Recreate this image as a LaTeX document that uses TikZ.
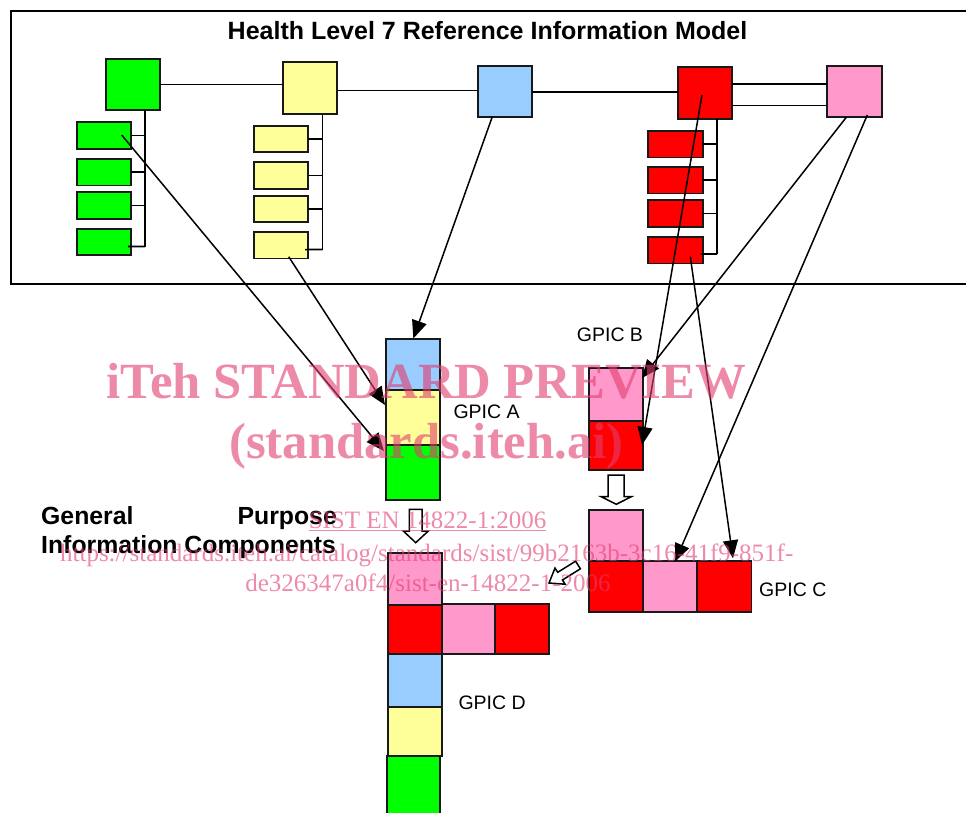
\documentclass[tikz,border=0pt]{standalone}
\usepackage{fontspec}
\setmainfont{Liberation Sans}
\newfontfamily\wmfont{Liberation Serif}
\usetikzlibrary{arrows.meta,calc}
\definecolor{cg}{RGB}{0,255,0}
\definecolor{cy}{RGB}{255,255,153}
\definecolor{cb}{RGB}{153,204,255}
\definecolor{cr}{RGB}{255,0,0}
\definecolor{cp}{RGB}{255,153,204}
\definecolor{wm}{RGB}{225,60,110}
\newcommand\mkbox[6]{\node[box,fill=#2,minimum width={#5-#3},minimum height={#6-#4}] (#1) at (#3,#4) {};}
\begin{document}
\begin{tikzpicture}[x=1pt,y=-1pt,
  box/.style={draw=black!90, line width=1.9pt, inner sep=0pt, outer sep=0pt, anchor=north west},
  link/.style={line width=1.6pt, draw=black},
  ptr/.style={line width=1.5pt, draw=black, -{Triangle[length=18pt,width=15pt]}},
  blk/.style={draw=black, line width=1.5pt, fill=white, line join=miter},
  lbl/.style={inner sep=0pt, font=\fontsize{19.5}{23}\selectfont, anchor=base west},
  gp/.style={inner sep=0pt, font=\bfseries\fontsize{24.8}{29}\selectfont},
  wmtext/.style={inner sep=0pt, text=wm, text opacity=0.6, anchor=base},
]
\useasboundingbox (0,0) rectangle (966,812);
\clip (0,0) rectangle (966,812);
\fill[white] (0,0) rectangle (966,812);

% frame
\draw[line width=1.7pt] (11,11) rectangle (990,284);
\node[inner sep=0pt, anchor=base, font=\bfseries\fontsize{25}{30}\selectfont] (title) at (487.5,39.3) {Health Level 7 Reference Information Model};

% top row classes
\mkbox{G}{cg}{106}{59}{160}{110}
\mkbox{Y}{cy}{283}{62}{337}{114}
\mkbox{B}{cb}{478}{66}{532}{117}
\mkbox{R}{cr}{678}{67}{732}{119}
\mkbox{P}{cp}{827}{66}{882}{117}

% small boxes
\mkbox{g1}{cg}{76.7}{122.3}{130.7}{148.8}
\mkbox{g2}{cg}{76.7}{159}{130.7}{185.5}
\mkbox{g3}{cg}{76.7}{192.3}{130.7}{218.8}
\mkbox{g4}{cg}{76.7}{228.7}{130.7}{255.2}
\mkbox{y1}{cy}{254}{125.7}{307.7}{152.2}
\mkbox{y2}{cy}{254}{162.3}{307.7}{188.8}
\mkbox{y3}{cy}{254}{195.7}{307.7}{222.2}
\mkbox{y4}{cy}{254}{232}{307.7}{258.5}
\mkbox{r1}{cr}{648.3}{131}{702.7}{157.5}
\mkbox{r2}{cr}{648.3}{167}{702.7}{193.5}
\mkbox{r3}{cr}{648.3}{200.3}{702.7}{226.8}
\mkbox{r4}{cr}{648.3}{237}{702.7}{263.5}

% links in top row
\draw[link] (G.east) -- (G.east -| Y.west);
\draw[link] (Y.east |- 0,90.3) -- (B.west |- 0,90.3);
\draw[link] (B.east |- 0,92) -- (R.west |- 0,92);
\draw[link] (R.east |- 0,84) -- (P.west |- 0,84);
\draw[link] (R.east |- 0,105.3) -- (P.west |- 0,105.3);

% buses
\coordinate (gbus) at (145,246.5);
\draw[link] (G.south -| gbus) -- (gbus);
\foreach \n in {g1,g2,g3} \draw[link] (\n.east) -- (\n.east -| gbus);
\draw[link] ($(g4.east)+(-2.7,4.5)$) -- (gbus);
\coordinate (ybus) at (322.5,249.5);
\draw[link] (Y.south -| ybus) -- (ybus);
\foreach \n in {y1,y2,y3} \draw[link] (\n.east) -- (\n.east -| ybus);
\draw[link] ($(y4.east)+(-2.7,4.3)$) -- (ybus);
\coordinate (rbus) at (717,254);
\draw[link] (R.south -| rbus) -- (rbus);
\foreach \n in {r1,r2,r3} \draw[link] (\n.east) -- (\n.east -| rbus);
\draw[link] ($(r4.east)+(-2.4,3.8)$) -- (rbus);

% GPIC A
\mkbox{A1}{cb}{386}{339.3}{440}{390.3}
\mkbox{A2}{cy}{386}{390.3}{440}{445}
\mkbox{A3}{cg}{386}{445}{440}{500}
% GPIC B
\mkbox{B1}{cp}{589.3}{368.3}{643.3}{420.7}
\mkbox{B2}{cr}{589.3}{420.7}{643.3}{470}
% GPIC C
\mkbox{C1}{cp}{589}{510}{643.3}{561}
\mkbox{C2}{cr}{589}{561}{643.3}{611.7}
\mkbox{C3}{cp}{643.3}{561}{697.3}{611.7}
\mkbox{C4}{cr}{697.3}{561}{751.5}{611.7}
% GPIC D
\mkbox{D5}{cg}{386.7}{756}{440}{830}
\mkbox{D4}{cy}{387.7}{706.7}{441.7}{756}
\mkbox{D3}{cb}{387.7}{654.3}{441.7}{706.7}
\mkbox{D2}{cr}{387.7}{605}{441.7}{654.3}
\mkbox{D1}{cp}{387.7}{553.3}{441.7}{605}
\mkbox{D6}{cp}{441.7}{604}{495.3}{654.3}
\mkbox{D7}{cr}{495.3}{604}{549.3}{654.3}

% labels
\node[lbl] (la) at (453.3,418.3) {GPIC A};
\node[lbl] (lb) at (576.7,341.7) {GPIC B};
\node[lbl] (lc) at (759,596.7) {GPIC C};
\node[lbl] (ld) at (458.3,709.3) {GPIC D};
\node[gp, anchor=base west] (gp1) at (41,524) {General};
\node[gp, anchor=base east] (gp2) at (337,524) {Purpose};
\node[gp, anchor=base west] (gp3) at (41,553) {Information Components};

% pointer arrows
\coordinate (s1) at (121.7,135);   \coordinate (t1) at (384,451);
\coordinate (s2) at (288.7,256.7); \coordinate (t2) at (385,405);
\coordinate (s3) at (492.3,116.7); \coordinate (t3) at (413.3,338.5);
\coordinate (s4) at (702,95);      \coordinate (t4) at (642,445);
\coordinate (s5) at (846.3,117.3); \coordinate (t5) at (642,378);
\coordinate (s6) at (867.3,115);   \coordinate (t6) at (675,561.7);
\coordinate (s7) at (690.3,256.7); \coordinate (t7) at (733,558.3);
\foreach \i in {1,...,7} \draw[ptr] (s\i) -- (t\i);

% block arrows
\draw[blk] (409.3,509.3) -- (422,509.3) -- (422,531) -- (428.3,531) -- (415.7,542.7) -- (403.3,531) -- (409.3,531) -- cycle;
\draw[blk] (608,475) -- (624,475) -- (624,496.7) -- (631.3,496.7) -- (616.3,504.3) -- (601.3,496.7) -- (608,496.7) -- cycle;
\draw[blk] (580.4,568.8) -- (562.4,580) -- (565.1,584.2) -- (549,583) -- (555,568.1) -- (557.7,572.3) -- (575.6,561.2) -- cycle;

% watermark
\node[wmtext, font=\wmfont\bfseries\fontsize{50.7}{60}\selectfont] (wm1) at (426.5,398.3) {iTeh STANDARD PREVIEW};
\node[wmtext, font=\wmfont\bfseries\fontsize{50.7}{60}\selectfont] (wm2) at (426.5,458.3) {(standards.iteh.ai)};
\node[wmtext, font=\wmfont\fontsize{25}{30}\selectfont] (wm3) at (427.5,528.3) {\underline{SIST EN 14822-1:2006}};
\node[wmtext, font=\wmfont\fontsize{25}{30}\selectfont] (wm4) at (426.7,561.7) {https://standards.iteh.ai/catalog/standards/sist/99b2163b-3c16-41f9-851f-};
\node[wmtext, font=\wmfont\fontsize{25}{30}\selectfont] (wm5) at (428,591.7) {de326347a0f4/sist-en-14822-1-2006};
\end{tikzpicture}
\end{document}
